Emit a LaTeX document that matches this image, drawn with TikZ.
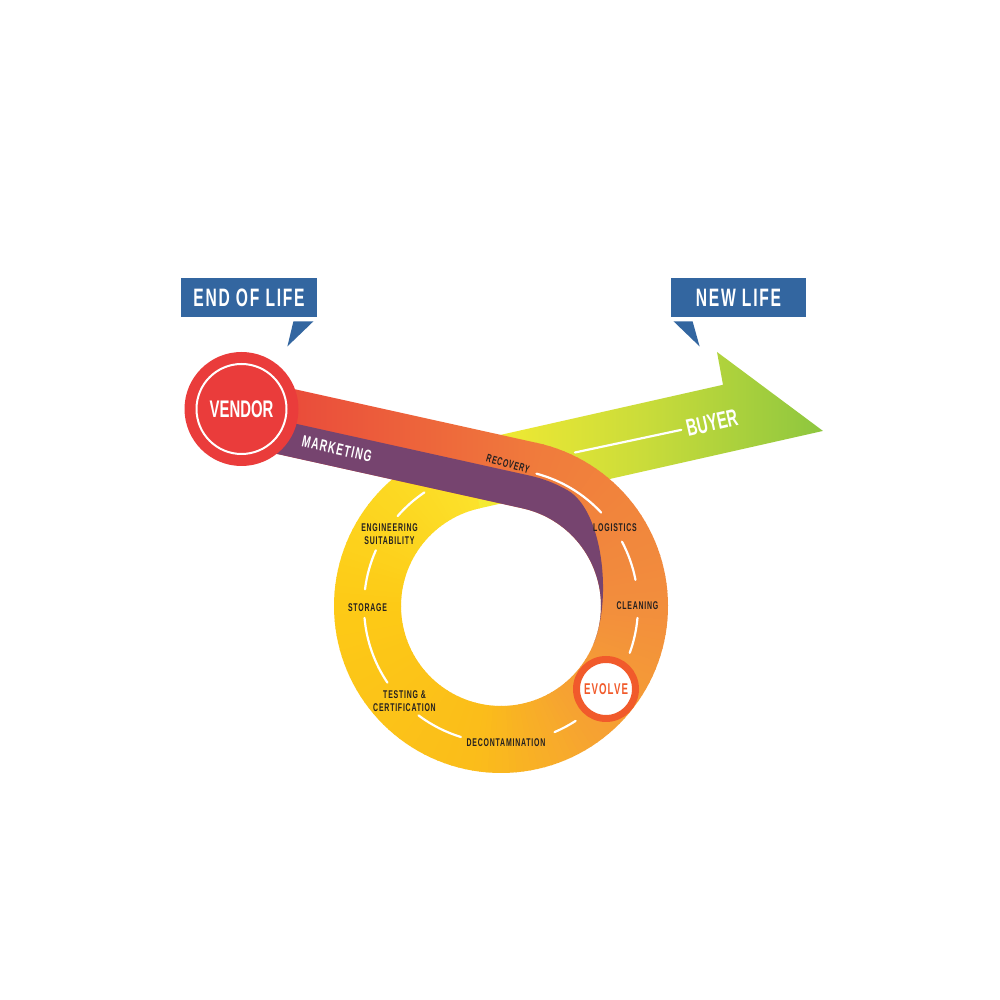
\documentclass[tikz,border=0pt]{standalone}
\usepackage{fontspec}
\newfontfamily\condfont[FakeStretch=0.62,LetterSpace=7]{Liberation Sans}
\newfontfamily\condtight[FakeStretch=0.62]{Liberation Sans}
\usetikzlibrary{calc}

\definecolor{vendorred}{HTML}{EA3C3B}
\definecolor{bandred}{HTML}{E8403A}
\definecolor{bandorange}{HTML}{F07B3C}
\definecolor{mktpurple}{HTML}{76446F}
\definecolor{arrowyellow}{HTML}{F9EC31}
\definecolor{arrowmid}{HTML}{CADC3A}
\definecolor{arrowgreen}{HTML}{8DC63F}
\definecolor{ringA}{HTML}{F07B3C}
\definecolor{ringB}{HTML}{F28E3D}
\definecolor{ringC}{HTML}{F6A332}
\definecolor{ringD}{HTML}{FBBD1A}
\definecolor{ringE}{HTML}{FDCA16}
\definecolor{ringF}{HTML}{FCE22B}
\definecolor{evolvered}{HTML}{F15A2B}
\definecolor{calloutblue}{HTML}{3366A0}
\definecolor{labelblack}{HTML}{231F20}

\tikzset{
  callout/.style={fill=calloutblue, text=white, inner sep=0pt,
    minimum width=68pt, minimum height=19.5pt,
    font=\condfont\bfseries\fontsize{12.6}{14}\selectfont},
  steplabel/.style={text=labelblack, align=center, inner sep=0pt,
    font=\condfont\bfseries\fontsize{5.6}{6.5}\selectfont},
  bandtext/.style={text=white, inner sep=0pt,
    font=\condfont\bfseries\fontsize{8.2}{9}\selectfont},
  vendor disc/.style={circle, fill=vendorred, minimum size=57pt, inner sep=0pt,
    text=white, font=\condtight\bfseries\fontsize{12}{13}\selectfont},
  evolve disc/.style={circle, fill=white, draw=evolvered, line width=3.5pt,
    minimum size=29.5pt, inner sep=0pt, text=evolvered,
    font=\condfont\bfseries\fontsize{7.8}{9}\selectfont},
  roadline/.style={white, line width=1.1pt, line cap=round},
}

\begin{document}
\begin{tikzpicture}[x=0.5pt,y=0.5pt]
\useasboundingbox (0,0) rectangle (1000,1000);
\fill[white] (0,0) rectangle (1000,1000);

\begin{scope}[shift={(501,394)}]
% arrow out to the buyer
\shade[left color=arrowyellow, right color=arrowgreen, middle color=arrowmid]
  (102.7:100) -- ++(12.7:352.6) -- (216,254)
  -- ($(102.7:167)+(12.7:265.2)$) -- (102.7:167) -- cycle;

% the loop, coloured on the way round
\foreach \ta/\tb/\cA/\cB in {77.5/0/ringA/ringB, 0/-55/ringB/ringC,
    -55/-100/ringC/ringD, -100/-180/ringD/ringE, -180/-257.8/ringE/ringF}{
  \pgfmathtruncatemacro\nseg{max(1,round(abs(\tb-\ta)/2.5))}
  \foreach \i in {1,...,\nseg}{
    \pgfmathsetmacro\sa{\ta+(\i-1)*(\tb-\ta)/\nseg+0.4}
    \pgfmathsetmacro\sb{\ta+\i*(\tb-\ta)/\nseg}
    \pgfmathtruncatemacro\pc{100*(\i-0.5)/\nseg}
    \colorlet{segcol}{\cB!\pc!\cA}
    \fill[segcol] (\sa:100) arc[start angle=\sa, end angle=\sb, radius=100]
      -- (\sb:167) arc[start angle=\sb, end angle=\sa, radius=167] -- cycle;
  }
}

% band from the vendor
\shade[left color=bandred, right color=bandorange]
  ($(77.5:167)+(167.5:300)$) -- (77.5:167) -- (77.5:100)
  -- ($(77.5:100)+(167.5:300)$) -- cycle;

% marketing lane
\fill[mktpurple] ($(77.5:133.5)+(167.5:300)$) -- (77.5:133.5)
  arc[start angle=77.5, end angle=60, radius=133.5]
  .. controls (101.4,95.6) and (111.5,8.85) .. (-22:100)
  arc[start angle=-22, end angle=77.5, radius=100]
  -- ($(77.5:100)+(167.5:300)$) -- cycle;

% road markings
\foreach \ta/\tb in {75/43, 28/11, -5/-20, -57/-67, -107/-127,
    -146/-175, 173/156, 139/124}
  \draw[roadline] (\ta:137) arc[start angle=\ta, end angle=\tb, radius=137];

\node[bandtext, font=\condtight\bfseries\fontsize{12}{13}\selectfont,
  rotate=12.7] (buyer) at (211,183) {BUYER};
\draw[roadline, shorten >=2.5pt] ($(102.7:133.5)+(12.7:105.9)$) -- (buyer.west);
\end{scope}

\node[bandtext, rotate=-12.5] (marketing) at (337,551) {MARKETING};

% steps round the loop
\node[steplabel, rotate=-16] (recovery) at (508,536) {RECOVERY};
\node[steplabel] (logistics) at (615,472.5) {LOGISTICS};
\node[steplabel] (cleaning) at (637.5,394.5) {CLEANING};
\node[steplabel] (decon) at (506,257) {DECONTAMINATION};
\node[steplabel] (testing) at (404.5,298.5) {TESTING \&\\CERTIFICATION};
\node[steplabel] (storage) at (367.5,392) {STORAGE};
\node[steplabel] (engineering) at (389.5,465.5) {ENGINEERING\\SUITABILITY};

\node[vendor disc] (vendor) at (241.5,591) {VENDOR};
\draw[white, line width=1pt] (vendor.center) circle[radius=45];
\node[evolve disc] (evolve) at (606,311) {EVOLVE};

% callouts
\node[callout] (endlife) at (249,702.5) {END OF LIFE};
\fill[calloutblue] ($(endlife.south east)+(-4,-4)$) -- ($(endlife.south east)+(-24,-4)$)
  -- ($(endlife.south east)+(-30,-29)$) -- cycle;
\node[callout, minimum width=67.5pt] (newlife) at (738.5,702.5) {NEW LIFE};
\fill[calloutblue] ($(newlife.south west)+(3,-4)$) -- ($(newlife.south west)+(22,-4)$)
  -- ($(newlife.south west)+(29,-29)$) -- cycle;
\end{tikzpicture}
\end{document}
